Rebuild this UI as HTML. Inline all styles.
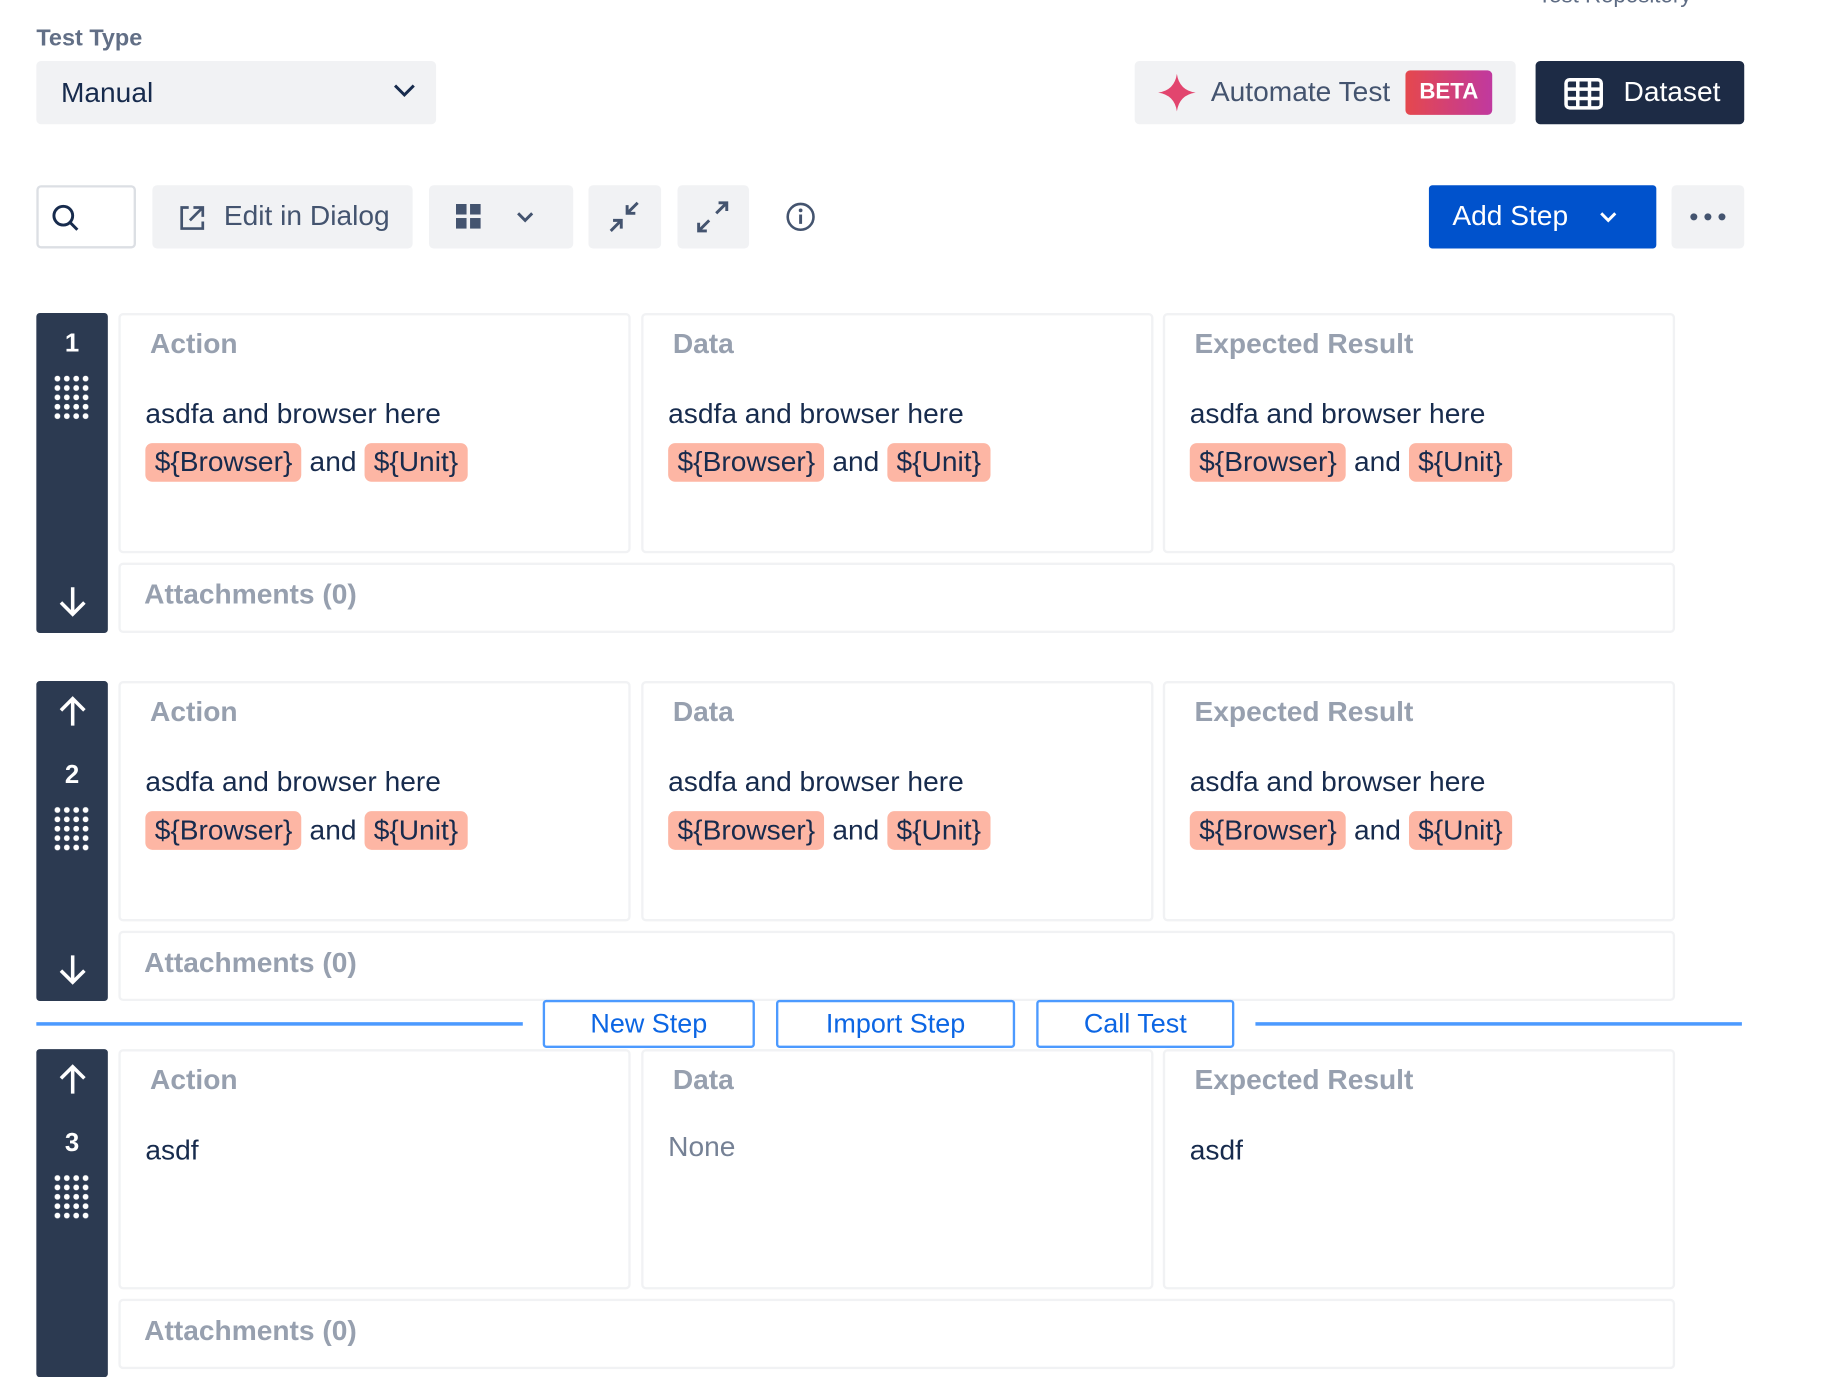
<!DOCTYPE html>
<html><head><meta charset="utf-8"><style>
html,body{margin:0;padding:0;background:#fff;}
body{width:1838px;height:1372px;overflow:hidden;position:relative;font-family:"Liberation Sans",sans-serif;}
#w{position:absolute;left:0;top:0;width:1568px;height:1171px;transform:scale(1.1722);transform-origin:0 0;}
.a{position:absolute;box-sizing:border-box;}
.g{background:#f1f2f4;border-radius:4px;}
.t{position:absolute;white-space:nowrap;}
.side{background:#2c3a51;border-radius:3px;width:61px;}
.card{border:2px solid #f1f2f4;border-radius:4px;background:#fff;}
.h{font-weight:bold;color:#97a0af;font-size:24px;}
.b{color:#172b4d;font-size:24px;}
.tag{background:#fdb6a4;border-radius:6px;padding:3px 8px;}
.dots{position:absolute;width:32px;height:40px;background-image:radial-gradient(circle,#fff 2.3px,transparent 2.6px);background-size:8px 8px;}
.nb{color:#fff;font-weight:bold;font-size:22px;text-align:center;width:61px;}
.ob{border:2px solid #4c9aff;border-radius:3px;color:#0c66e4;font-size:23px;text-align:center;line-height:36px;background:#fff;}
</style></head><body><div id="w">
<div class="t" style="left:1312px;top:-14px;font-size:19px;color:#5e6c84;">Test Repository</div>
<div class="t" style="left:31px;top:22px;font-size:20px;font-weight:bold;color:#626f86;">Test Type</div>
<div class="a g" style="left:31px;top:52px;width:341px;height:54px;"></div>
<div class="t b" style="left:52px;top:66px;">Manual</div>
<svg class="a" style="left:334px;top:70px" width="22" height="16"><path d="M3 3l8 8 8-8" stroke="#172b4d" stroke-width="2.5" fill="none"/></svg>
<div class="a g" style="left:968px;top:52px;width:325px;height:54px;"></div>
<svg class="a" style="left:987px;top:62px" width="34" height="34"><path d="M17 1 Q19 15 33 17 Q19 19 17 33 Q15 19 1 17 Q15 15 17 1Z" fill="#e2456e"/></svg>
<div class="t b" style="left:1033px;top:65px;color:#44546f;">Automate Test</div>
<div class="a" style="left:1199px;top:60px;width:74px;height:38px;border-radius:4px;background:linear-gradient(90deg,#e5484d,#c0399f);color:#fff;font-weight:bold;font-size:19px;text-align:center;line-height:38px;">BETA</div>
<div class="a" style="left:1310px;top:52px;width:178px;height:54px;background:#1d2b45;border-radius:4px;"></div>
<svg class="a" style="left:1334px;top:66px" width="34" height="28"><rect x="2" y="2" width="30" height="24" rx="3" fill="none" stroke="#fff" stroke-width="3"/><path d="M12 2v24M22 2v24M2 10h30M2 18h30" stroke="#fff" stroke-width="3"/></svg>
<div class="t" style="left:1385px;top:65px;font-size:24px;color:#fff;">Dataset</div>

<div class="a" style="left:31px;top:158px;width:85px;height:54px;border:2px solid #dcdfe4;border-radius:4px;"></div>
<svg class="a" style="left:43px;top:173px" width="26" height="26"><circle cx="11" cy="11" r="8" stroke="#172b4d" stroke-width="2.5" fill="none"/><path d="M17 17l6 6" stroke="#172b4d" stroke-width="2.5"/></svg>
<div class="a g" style="left:130px;top:158px;width:222px;height:54px;"></div>
<svg class="a" style="left:151px;top:173px" width="26" height="26"><path d="M10 4H4v18h18v-6M14 4h8v8M22 4L11 15" stroke="#44546f" stroke-width="2.3" fill="none"/></svg>
<div class="t b" style="left:191px;top:171px;color:#44546f;">Edit in Dialog</div>
<div class="a g" style="left:366px;top:158px;width:123px;height:54px;"></div>
<svg class="a" style="left:389px;top:174px" width="22" height="22"><rect x="0" y="0" width="9" height="9" fill="#44546f"/><rect x="12" y="0" width="9" height="9" fill="#44546f"/><rect x="0" y="12" width="9" height="9" fill="#44546f"/><rect x="12" y="12" width="9" height="9" fill="#44546f"/></svg>
<svg class="a" style="left:440px;top:180px" width="16" height="12"><path d="M2 2l6 6 6-6" stroke="#44546f" stroke-width="2.5" fill="none"/></svg>
<div class="a g" style="left:502px;top:158px;width:62px;height:54px;"></div>
<svg class="a" style="left:518px;top:170px" width="30" height="30"><path d="M26 3l-9 9M17 5v7h7M3 27l9-9M12 25v-7H5" stroke="#44546f" stroke-width="2.5" fill="none"/></svg>
<div class="a g" style="left:578px;top:158px;width:61px;height:54px;"></div>
<svg class="a" style="left:593px;top:170px" width="30" height="30"><path d="M27 3l-9 9M20 3h7v7M3 27l9-9M3 20v7h7" stroke="#44546f" stroke-width="2.5" fill="none"/></svg>
<svg class="a" style="left:670px;top:172px" width="26" height="26"><circle cx="13" cy="13" r="11" stroke="#44546f" stroke-width="2.2" fill="none"/><path d="M13 11v8" stroke="#44546f" stroke-width="2.5"/><circle cx="13" cy="7.5" r="1.6" fill="#44546f"/></svg>
<div class="a" style="left:1219px;top:158px;width:194px;height:54px;background:#0052cc;border-radius:3px;"></div>
<div class="t" style="left:1239px;top:171px;font-size:24px;color:#fff;">Add Step</div>
<svg class="a" style="left:1364px;top:180px" width="16" height="12"><path d="M2 2l6 6 6-6" stroke="#fff" stroke-width="2.5" fill="none"/></svg>
<div class="a g" style="left:1426px;top:158px;width:62px;height:54px;"></div>
<svg class="a" style="left:1440px;top:178px" width="34" height="14"><circle cx="5" cy="7" r="3" fill="#44546f"/><circle cx="17" cy="7" r="3" fill="#44546f"/><circle cx="29" cy="7" r="3" fill="#44546f"/></svg>

<div id="steps"></div>
<div class="a" style="left:31px;top:872px;width:415px;height:3px;background:#4c9aff;"></div>
<div class="a" style="left:1071px;top:872px;width:415px;height:3px;background:#4c9aff;"></div>
<div class="a ob" style="left:463px;top:853px;width:181px;height:41px;">New Step</div>
<div class="a ob" style="left:662px;top:853px;width:204px;height:41px;">Import Step</div>
<div class="a ob" style="left:884px;top:853px;width:169px;height:41px;">Call Test</div>
</div>
<script>
var s='';
function up(y){return '<svg class="a" style="left:48px;top:'+y+'px" width="28" height="28"><path d="M14 26V3M4 13L14 3l10 10" stroke="#fff" stroke-width="3" fill="none"/></svg>';}
function dn(y){return '<svg class="a" style="left:48px;top:'+y+'px" width="28" height="28"><path d="M14 2v23M4 15l10 10 10-10" stroke="#fff" stroke-width="3" fill="none"/></svg>';}
var tagline='<span class="tag">${Browser}</span> and <span class="tag">${Unit}</span>';
[[267,1],[581,2],[895,3]].forEach(function(p){
 var y=p[0],n=p[1];
 s+='<div class="a side" style="left:31px;top:'+y+'px;height:'+(n==3?280:273)+'px;"></div>';
 if(n==1){s+='<div class="t nb" style="left:31px;top:'+(y+13)+'px">1</div><div class="dots" style="left:45px;top:'+(y+52)+'px"></div>'+dn(y+232);}
 else{s+=up(y+12)+'<div class="t nb" style="left:31px;top:'+(y+67)+'px">'+n+'</div><div class="dots" style="left:45px;top:'+(y+106)+'px"></div>';if(n==2)s+=dn(y+232);}
 [101,547,992].forEach(function(x,i){
  s+='<div class="a card" style="left:'+x+'px;top:'+y+'px;width:437px;height:205px;"></div>';
  s+='<div class="t h" style="left:'+(x+27)+'px;top:'+(y+13)+'px">'+['Action','Data','Expected Result'][i]+'</div>';
  if(n<3){s+='<div class="t b" style="left:'+(x+23)+'px;top:'+(y+73)+'px">asdfa and browser here</div><div class="t b" style="left:'+(x+23)+'px;top:'+(y+114)+'px">'+tagline+'</div>';}
  else{s+= i==1?'<div class="t b" style="left:'+(x+23)+'px;top:'+(y+70)+'px;color:#758195">None</div>':'<div class="t b" style="left:'+(x+23)+'px;top:'+(y+73)+'px">asdf</div>';}
 });
 s+='<div class="a card" style="left:101px;top:'+(y+213)+'px;width:1328px;height:60px;"></div><div class="t h" style="left:123px;top:'+(y+227)+'px">Attachments (0)</div>';
});
document.getElementById('steps').outerHTML=s;
</script>
</body></html>
